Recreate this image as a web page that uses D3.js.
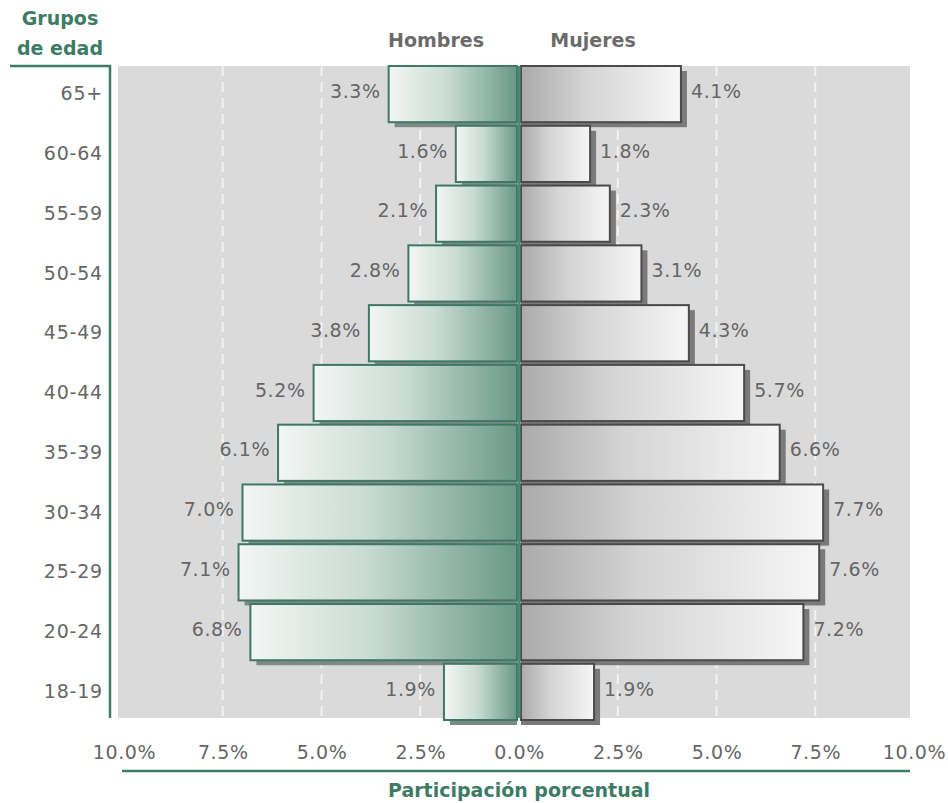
<!DOCTYPE html>
<html>
<head>
<meta charset="utf-8">
<script src="https://cdn.jsdelivr.net/npm/d3@7"></script>
<style>
  html, body { margin: 0; padding: 0; background: #ffffff; }
  svg { display: block; }
</style>
</head>
<body>
<svg id="chart" width="948" height="803"></svg>
<script>
// ---- data ----
const groups  = ["65+", "60-64", "55-59", "50-54", "45-49", "40-44", "35-39", "30-34", "25-29", "20-24", "18-19"];
const hombres = [3.3, 1.6, 2.1, 2.8, 3.8, 5.2, 6.1, 7.0, 7.1, 6.8, 1.9];
const mujeres = [4.1, 1.8, 2.3, 3.1, 4.3, 5.7, 6.6, 7.7, 7.6, 7.2, 1.9];
const tickValues = [0, 2.5, 5, 7.5, 10];
const tickLabels = ["0.0%", "2.5%", "5.0%", "7.5%", "10.0%"];
const sexLabels = ["Hombres", "Mujeres"];
const yTitle = ["Grupos", "de edad"];
const xTitle = "Participación porcentual";

// ---- layout ----
const svg = d3.select("#chart");
const font = "'DejaVu Sans', Lato, sans-serif";
const green = "#3e7b66";
const txt = "#666666";
const cx = 519;
const plotTop = 66, plotBottom = 718, plotLeft = 118, plotRight = 910;

const xR = d3.scaleLinear().domain([0, 10]).range([cx, 914]);
const xL = d3.scaleLinear().domain([0, 10]).range([cx, 124]);
const y = d3.scaleBand().domain(groups).range([plotTop, plotBottom + 2]).paddingInner(0.06).paddingOuter(0);

const defs = svg.append("defs");
const gM = defs.append("linearGradient").attr("id", "gradM").attr("x1", "0%").attr("x2", "100%");
gM.append("stop").attr("offset", "0%").attr("stop-color", "#f3f6f4");
gM.append("stop").attr("offset", "45%").attr("stop-color", "#c9dcd3");
gM.append("stop").attr("offset", "85%").attr("stop-color", "#84ab9c");
gM.append("stop").attr("offset", "100%").attr("stop-color", "#6a9986");
const gF = defs.append("linearGradient").attr("id", "gradF").attr("x1", "0%").attr("x2", "100%");
gF.append("stop").attr("offset", "0%").attr("stop-color", "#a9aaa9");
gF.append("stop").attr("offset", "40%").attr("stop-color", "#d4d4d4");
gF.append("stop").attr("offset", "100%").attr("stop-color", "#f6f6f6");

// background
svg.append("rect")
  .attr("x", plotLeft).attr("y", plotTop)
  .attr("width", plotRight - plotLeft).attr("height", plotBottom - plotTop)
  .attr("fill", "#dadada");

// dashed gridlines
const gridVals = tickValues.filter(v => v > 0 && v < 10);
const grid = svg.append("g");
gridVals.forEach(v => {
  [xL(v), xR(v)].forEach(px => {
    grid.append("line")
      .attr("x1", px).attr("x2", px)
      .attr("y1", plotTop).attr("y2", plotBottom)
      .attr("stroke", "#f2f2f2").attr("stroke-width", 2)
      .attr("stroke-dasharray", "10,6");
  });
});

// shadows
const sh = svg.append("g");
sh.selectAll("rect.sm").data(groups).join("rect")
  .attr("x", (d, i) => xL(hombres[i]) + 6)
  .attr("y", d => y(d) + 5)
  .attr("width", (d, i) => cx - 2 - xL(hombres[i]) - 6)
  .attr("height", y.bandwidth())
  .attr("fill", "#7e8a85");
sh.selectAll("rect.sf").data(groups).join("rect")
  .attr("x", cx + 2)
  .attr("y", d => y(d) + 5)
  .attr("width", (d, i) => xR(mujeres[i]) - cx - 2 + 6)
  .attr("height", y.bandwidth())
  .attr("fill", "#7a7a7a");

// bars
const bars = svg.append("g");
bars.selectAll("rect.m").data(groups).join("rect")
  .attr("class", "m")
  .attr("x", (d, i) => xL(hombres[i]))
  .attr("y", d => y(d))
  .attr("width", (d, i) => cx - 2 - xL(hombres[i]))
  .attr("height", y.bandwidth())
  .attr("fill", "url(#gradM)")
  .attr("stroke", "#3f7866").attr("stroke-width", 2);
bars.selectAll("rect.f").data(groups).join("rect")
  .attr("class", "f")
  .attr("x", cx + 2)
  .attr("y", d => y(d))
  .attr("width", (d, i) => xR(mujeres[i]) - cx - 2)
  .attr("height", y.bandwidth())
  .attr("fill", "url(#gradF)")
  .attr("stroke", "#4a4a4a").attr("stroke-width", 2);

// central line
svg.append("line")
  .attr("x1", cx).attr("x2", cx)
  .attr("y1", plotTop).attr("y2", plotBottom)
  .attr("stroke", "#4f8a76").attr("stroke-width", 3);

// value labels
const fmt = v => v.toFixed(1) + "%";
const lab = svg.append("g").attr("font-family", font).attr("font-size", 19)
  .attr("letter-spacing", 0.6).attr("fill", txt);
lab.selectAll("text.m").data(groups).join("text")
  .attr("x", (d, i) => xL(hombres[i]) - 8)
  .attr("y", d => y(d) + y.bandwidth() / 2 - 3)
  .attr("dy", "0.35em")
  .attr("text-anchor", "end")
  .text((d, i) => fmt(hombres[i]));
lab.selectAll("text.f").data(groups).join("text")
  .attr("x", (d, i) => xR(mujeres[i]) + 10)
  .attr("y", d => y(d) + y.bandwidth() / 2 - 3)
  .attr("dy", "0.35em")
  .attr("text-anchor", "start")
  .text((d, i) => fmt(mujeres[i]));

// y axis
const yAxis = d3.axisLeft(y).tickSize(0).tickPadding(7);
const gy = svg.append("g").attr("transform", "translate(110,0)").call(yAxis);
gy.select(".domain").remove();
gy.selectAll("text").attr("font-family", font).attr("font-size", 19)
  .attr("letter-spacing", 0.8).attr("fill", txt);
svg.append("line").attr("x1", 110).attr("x2", 110).attr("y1", plotTop - 1).attr("y2", plotBottom)
  .attr("stroke", green).attr("stroke-width", 2.5);
svg.append("line").attr("x1", 10).attr("x2", 111).attr("y1", plotTop).attr("y2", plotTop)
  .attr("stroke", green).attr("stroke-width", 2.5);

// x axes
const axR = d3.axisBottom(xR).tickValues(tickValues).tickSize(0).tickPadding(0)
  .tickFormat((d, i) => tickLabels[i]);
const axL = d3.axisBottom(xL).tickValues(tickValues.slice(1)).tickSize(0).tickPadding(0)
  .tickFormat((d, i) => tickLabels[i + 1]);
const gxR = svg.append("g").attr("transform", "translate(0,745)").call(axR);
const gxL = svg.append("g").attr("transform", "translate(0,745)").call(axL);
[gxR, gxL].forEach(g => {
  g.select(".domain").remove();
  g.selectAll("text").attr("font-family", font).attr("font-size", 19)
    .attr("letter-spacing", 0.6).attr("fill", txt);
});
svg.append("line").attr("x1", 122).attr("x2", 910).attr("y1", 771).attr("y2", 771)
  .attr("stroke", green).attr("stroke-width", 2.5);

// titles
const titles = svg.append("g").attr("font-family", font).attr("font-weight", "bold").attr("font-size", 19);
titles.selectAll("text.yt").data(yTitle).join("text")
  .attr("x", 60).attr("y", (d, i) => 25 + i * 30)
  .attr("text-anchor", "middle").attr("fill", green).text(d => d);
titles.append("text").attr("x", cx).attr("y", 797).attr("text-anchor", "middle")
  .attr("fill", green).text(xTitle);
titles.selectAll("text.sx").data(sexLabels).join("text")
  .attr("x", (d, i) => i === 0 ? 436 : 593).attr("y", 47)
  .attr("text-anchor", "middle").attr("fill", "#6b6b6b").text(d => d);
</script>
</body>
</html>
